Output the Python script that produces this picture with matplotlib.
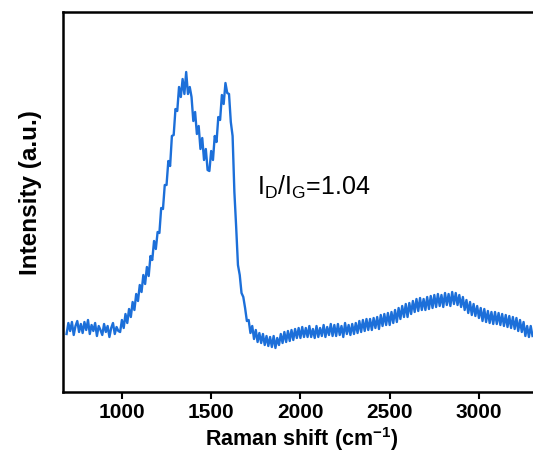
import matplotlib
matplotlib.use("Agg")
import matplotlib.pyplot as plt
import numpy as np

plt.rcParams['font.family'] = ['Liberation Sans', 'DejaVu Sans']
plt.rcParams['mathtext.fontset'] = 'custom'
plt.rcParams['mathtext.rm'] = 'Liberation Sans'
plt.rcParams['mathtext.it'] = 'Liberation Sans:italic'
plt.rcParams['mathtext.bf'] = 'Liberation Sans:bold'

# Raman shift (cm^-1), 10 cm^-1 steps from 690 to 3300
shift_start = 690
shift_step = 10

intensity = [
    58, 69, 61, 70, 57, 66, 71, 60, 68, 59,          # 690-780
    70, 62, 72, 58, 67, 61, 69, 56, 66, 62,          # 790-880
    57, 68, 60, 66, 55, 64, 69, 58, 65, 61,          # 890-980
    60, 72, 64, 78, 69, 83, 75, 90, 82, 98,          # 990-1080
    91, 107, 100, 117, 108, 125, 116, 136, 132, 151, # 1090-1180
    143, 160, 159, 184, 183, 207, 207, 231, 226, 256,# 1190-1280
    257, 283, 281, 305, 295, 313, 298, 320, 298, 305,# 1290-1380
    295, 271, 280, 258, 266, 243, 254, 232, 243, 222,# 1390-1480
    221, 241, 232, 256, 250, 275, 272, 297, 288, 309,# 1490-1580
    299, 298, 270, 256, 200, 165, 127, 117, 99, 95,  # 1590-1680
    84, 71, 72, 59, 66, 53, 62, 50, 59, 49,          # 1690-1780
    58, 47, 56, 46, 55, 45, 56, 44, 54, 47,          # 1790-1880
    58, 49, 60, 50, 61, 51, 62, 52, 63, 54,          # 1890-1980
    64, 54, 65, 55, 64, 55, 66, 55, 63, 54,          # 1990-2080
    66, 55, 64, 56, 67, 55, 65, 57, 68, 56,          # 2090-2180
    67, 56, 68, 57, 66, 55, 69, 58, 67, 57,          # 2190-2280
    68, 58, 69, 59, 71, 60, 72, 61, 73, 62,          # 2290-2380
    73, 62, 74, 64, 75, 63, 77, 66, 78, 67,          # 2390-2480
    79, 67, 80, 69, 82, 70, 84, 73, 86, 75,          # 2490-2580
    88, 75, 89, 78, 91, 80, 93, 81, 94, 82,          # 2590-2680
    93, 82, 95, 83, 96, 84, 97, 85, 98, 86,          # 2690-2780
    97, 85, 99, 87, 98, 86, 100, 88, 99, 87,         # 2790-2880
    97, 85, 95, 82, 92, 79, 90, 77, 88, 76,          # 2890-2980
    86, 74, 84, 71, 83, 70, 81, 69, 80, 68,          # 2990-3080
    80, 68, 79, 67, 78, 66, 77, 65, 76, 64,          # 3090-3180
    75, 63, 74, 61, 72, 60, 70, 56, 66, 55,          # 3190-3280
    66, 56,                                          # 3290-3300
]
shift = shift_start + shift_step * np.arange(len(intensity))

x_ticks = [1000, 1500, 2000, 2500, 3000]
ratio_label = r'I$_\mathregular{D}$/I$_\mathregular{G}$=1.04'

fig = plt.figure(figsize=(5.33, 4.55), dpi=100)
ax = fig.add_axes([63/533, 63/455, 477/533, 380/455])
ax.plot(shift, intensity, color='#1c6fd9', lw=1.7)

ax.set_xlim(670, 3342)
ax.set_ylim(0, 380)
ax.set_xticks(x_ticks)
ax.set_xticklabels([str(t) for t in x_ticks], fontweight='bold', fontsize=15)
ax.set_yticks([])
ax.tick_params(axis='x', direction='out', length=5, width=1.5, pad=3)
for s in ax.spines.values():
    s.set_linewidth(1.8)

ax.set_xlabel(r'Raman shift (cm$^{\mathbf{-1}}$)', fontweight='bold', fontsize=15.5)
ax.xaxis.set_label_coords(0.5, -0.088)
ax.xaxis.label.set_va('top')
ax.set_ylabel('Intensity (a.u.)', fontweight='bold', fontsize=17.5)
ax.yaxis.set_label_coords(-0.045, 0.525)

ax.text(0.407, 0.539, ratio_label, transform=ax.transAxes, fontsize=18, ha='left', va='center')

fig.savefig('out.png', dpi=100)
